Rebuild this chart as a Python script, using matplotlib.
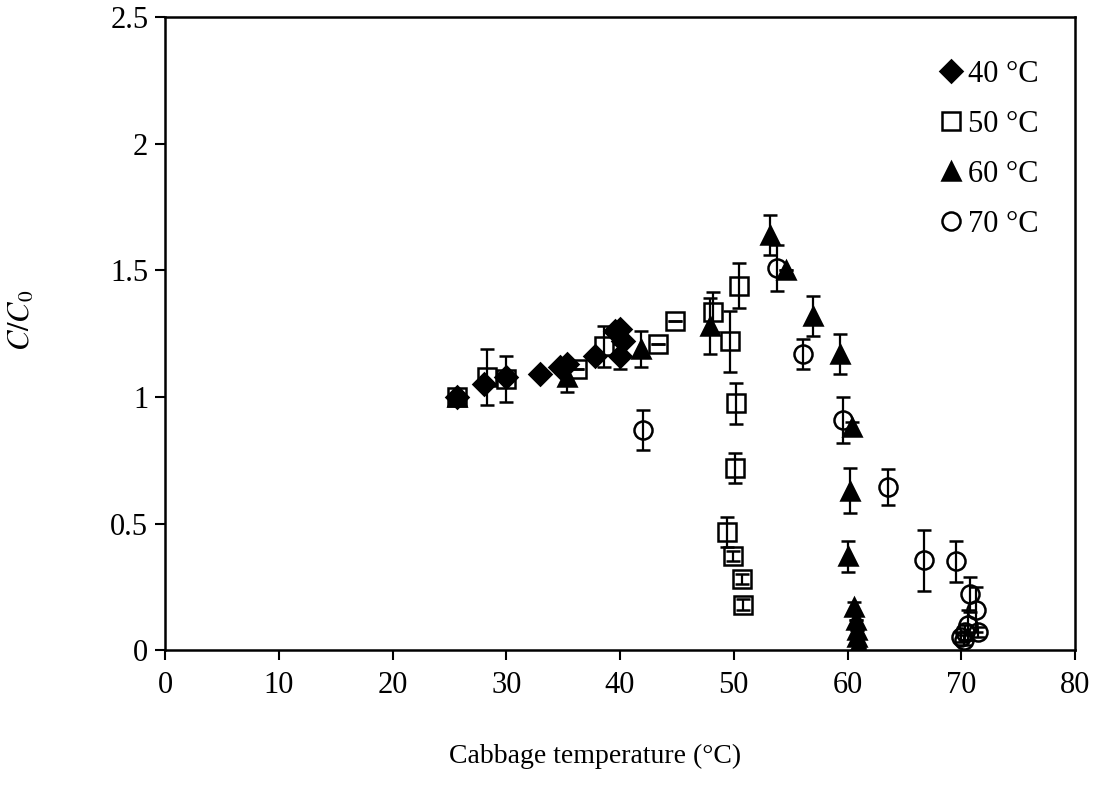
import matplotlib
matplotlib.use('Agg')
import matplotlib.pyplot as plt
from matplotlib.lines import Line2D

# Values
x40 = [25.7, 28.0, 30.0, 33.0, 34.7, 35.3, 37.8, 39.6, 40.0, 40.3, 40.0]
y40 = [1.0, 1.05, 1.08, 1.09, 1.12, 1.13, 1.16, 1.26, 1.16, 1.22, 1.27]
e40 = [0, 0, 0, 0, 0, 0, 0, 0, 0.05, 0, 0]

x50 = [25.7, 28.3, 30.0, 36.2, 38.6, 43.3, 44.8, 48.2, 49.7, 50.5, 50.2, 50.1, 49.4, 49.9, 50.7, 50.8]
y50 = [1.0, 1.08, 1.07, 1.11, 1.2, 1.21, 1.30, 1.335, 1.22, 1.44, 0.975, 0.72, 0.466, 0.37, 0.28, 0.18]
e50 = [0, 0.11, 0.09, 0, 0.08, 0, 0, 0.08, 0.12, 0.09, 0.08, 0.06, 0.06, 0.02, 0.02, 0.02]

x60 = [25.7, 35.3, 41.8, 47.9, 53.2, 54.6, 57.0, 59.3, 60.4, 60.2, 60.0, 60.6, 60.7, 60.8, 60.8, 60.9, 61.0]
y60 = [1.0, 1.08, 1.19, 1.28, 1.64, 1.50, 1.32, 1.17, 0.88, 0.63, 0.37, 0.17, 0.12, 0.08, 0.05, 0.02, 0.01]
e60 = [0, 0.06, 0.07, 0.11, 0.08, 0, 0.08, 0.08, 0.02, 0.09, 0.06, 0.02, 0, 0, 0, 0, 0]

x70 = [42.0, 53.8, 56.1, 59.6, 63.6, 66.7, 69.5, 70.8, 71.3, 70.6, 70.3, 71.5, 70.0, 70.2]
y70 = [0.87, 1.51, 1.17, 0.91, 0.645, 0.355, 0.35, 0.22, 0.16, 0.10, 0.07, 0.07, 0.05, 0.04]
e70 = [0.08, 0.09, 0.06, 0.09, 0.07, 0.12, 0.08, 0.07, 0.09, 0.06, 0.03, 0.02, 0.02, 0.02]

labels = ['40 °C', '50 °C', '60 °C', '70 °C']

plt.rcParams['font.family'] = ['Liberation Serif', 'DejaVu Serif']
plt.rcParams['mathtext.fontset'] = 'stix'

fig = plt.figure(figsize=(10.97, 7.87), dpi=100)
ax = fig.add_axes([0.1504, 0.174, 0.8296, 0.804])

common = dict(ls='none', ecolor='black', elinewidth=1.6, capsize=5, capthick=1.6, mec='black', mew=1.8)
styles = [dict(marker='D', ms=11, mfc='black'),
          dict(marker='s', ms=13, mfc='none'),
          dict(marker='^', ms=13, mfc='black'),
          dict(marker='o', ms=13, mfc='none')]

series = [(x40, y40, e40), (x50, y50, e50), (x60, y60, e60), (x70, y70, e70)]
handles = []
for (x, y, e), st, lab in zip(series, styles, labels):
    ax.errorbar(x, y, yerr=e, **st, **common)
    handles.append(Line2D([], [], ls='none', mec='black', mew=1.8, **st))

ax.set_xlim(0, 80)
ax.set_ylim(0, 2.5)
ax.set_xticks(range(0, 81, 10))
ax.set_yticks([0, 0.5, 1, 1.5, 2, 2.5])
ax.set_yticklabels(['0', '0.5', '1', '1.5', '2', '2.5'])
ax.tick_params(direction='out', length=7, width=1.5, labelsize=22)
ax.tick_params(axis='y', pad=5)
ax.tick_params(axis='x', pad=8)
for s in ax.spines.values():
    s.set_linewidth(1.8)
    s.set_color('black')

ax.set_xlabel('Cabbage temperature (°C)', fontsize=20)
ax.xaxis.set_label_coords(0.4725, -0.148)
ax.set_ylabel(r'$C/C_0$', fontsize=22)
ax.yaxis.set_label_coords(-0.141, 0.521)

ax.legend(handles, labels, loc='upper right', bbox_to_anchor=(0.987, 0.971), frameon=False, fontsize=22,
          handlelength=0.7, handletextpad=0.2, labelspacing=0.685, borderpad=0.3)

fig.savefig('out.png', dpi=100, facecolor='white')
